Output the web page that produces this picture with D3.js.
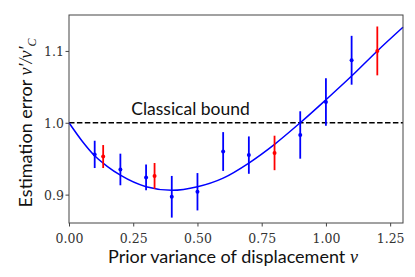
<!DOCTYPE html>
<html>
<head>
<meta charset="utf-8">
<script src="https://cdn.jsdelivr.net/npm/d3@7"></script>
<style>
  body { margin: 0; background: #fff; }
</style>
</head>
<body>
<div id="chart"></div>
<script>
const w = 415;
const h = 277;
const m = {top: 15, right: 12, bottom: 54, left: 69};

// measured points (blue) and extra runs (red), with error bar half-widths
const blueX = [0.1, 0.2, 0.3, 0.4, 0.5, 0.6, 0.7, 0.9, 1.0, 1.1];
const blueY = [0.956, 0.935, 0.924, 0.897, 0.904, 0.960, 0.955, 0.983, 1.029, 1.087];
const blueErr = [0.019, 0.022, 0.018, 0.029, 0.026, 0.027, 0.026, 0.033, 0.033, 0.034];

const redX = [0.133, 0.333, 0.8, 1.2];
const redY = [0.953, 0.926, 0.958, 1.100];
const redErr = [0.016, 0.018, 0.024, 0.034];

// theory curve
const curveX = [0, 0.05, 0.1, 0.15, 0.2, 0.3, 0.4, 0.5, 0.6, 0.7, 0.8, 0.9, 1.0, 1.1, 1.2, 1.3];
const curveY = [1.0, 0.975, 0.954, 0.939, 0.927, 0.911, 0.906, 0.911, 0.923, 0.944, 0.970, 1.0, 1.032, 1.065, 1.100, 1.133];

const xTicks = [0, 0.25, 0.5, 0.75, 1.0, 1.25];
const yTicks = [0.9, 1.0, 1.1];

const x = d3.scaleLinear().domain([0, 1.3]).range([m.left, w - m.right]);
const y = d3.scaleLinear().domain([0.8605, 1.15]).range([h - m.bottom, m.top]);

const svg = d3.select("#chart").append("svg")
    .attr("width", w)
    .attr("height", h);

// classical bound
svg.append("line")
    .attr("x1", x(0)).attr("x2", x(1.3))
    .attr("y1", y(1.0)).attr("y2", y(1.0))
    .attr("stroke", "black")
    .attr("stroke-width", 1.5)
    .attr("stroke-dasharray", "5.5,2.4");

svg.append("text")
    .attr("x", 190.5)
    .attr("y", y(1.0) - 7.5)
    .attr("text-anchor", "middle")
    .style("font-family", "Lato, sans-serif")
    .style("font-size", "17.5px")
    .attr("fill", "#111")
    .text("Classical bound");

// theory
const line = d3.line()
    .x((d, i) => x(curveX[i]))
    .y((d, i) => y(d))
    .curve(d3.curveMonotoneX);

svg.append("path")
    .datum(curveY)
    .attr("d", line)
    .attr("fill", "none")
    .attr("stroke", "#0000ff")
    .attr("stroke-width", 1.5);

const drawPoints = (xs, ys, es, color) => {
    const g = svg.append("g");
    g.selectAll("line")
        .data(xs)
        .enter()
        .append("line")
        .attr("x1", (d) => x(d))
        .attr("x2", (d) => x(d))
        .attr("y1", (d, i) => y(ys[i] - es[i]))
        .attr("y2", (d, i) => y(ys[i] + es[i]))
        .attr("stroke", color)
        .attr("stroke-width", 1.8);
    g.selectAll("circle")
        .data(xs)
        .enter()
        .append("circle")
        .attr("cx", (d) => x(d))
        .attr("cy", (d, i) => y(ys[i]))
        .attr("r", 2)
        .attr("fill", color);
};

drawPoints(blueX, blueY, blueErr, "#0000ff");
drawPoints(redX, redY, redErr, "#ff0000");

// frame
svg.append("rect")
    .attr("x", m.left).attr("y", m.top)
    .attr("width", w - m.left - m.right)
    .attr("height", h - m.top - m.bottom)
    .attr("fill", "none")
    .attr("stroke", "#444")
    .attr("stroke-width", 1);

const xAxis = d3.axisBottom(x).tickValues(xTicks).tickFormat(d3.format(".2f")).tickSize(3.5).tickSizeOuter(0);
const yAxis = d3.axisLeft(y).tickValues(yTicks).tickFormat(d3.format(".1f")).tickSize(3.5).tickSizeOuter(0);

const styleTicks = (g) => {
    g.select(".domain").remove();
    g.selectAll(".tick line").attr("stroke", "#444");
    g.selectAll(".tick text")
        .style("font-family", "'DejaVu Serif', serif")
        .style("font-size", "12.5px")
        .attr("fill", "#333");
};

const gx = svg.append("g")
    .attr("transform", `translate(0, ${h - m.bottom})`)
    .call(xAxis)
    .call(styleTicks);
gx.selectAll(".tick text").attr("y", 20).attr("dy", null);

const gy = svg.append("g")
    .attr("transform", `translate(${m.left}, 0)`)
    .call(yAxis)
    .call(styleTicks);
gy.selectAll(".tick text").attr("x", -5).attr("dy", "0.36em");

// axis labels
const xl = svg.append("text")
    .attr("x", 233)
    .attr("y", 263)
    .attr("text-anchor", "middle")
    .style("font-family", "Lato, sans-serif")
    .style("font-size", "18px")
    .attr("fill", "#111");
xl.append("tspan").text("Prior variance of displacement ");
xl.append("tspan")
    .style("font-family", "'Liberation Serif', serif")
    .style("font-style", "italic")
    .text("v");

const yl = svg.append("text")
    .attr("transform", `translate(32, 123) rotate(-90)`)
    .attr("text-anchor", "middle")
    .style("font-family", "Lato, sans-serif")
    .style("font-size", "18px")
    .attr("fill", "#111");
yl.append("tspan").text("Estimation error ");
yl.append("tspan")
    .style("font-family", "'Liberation Serif', serif")
    .style("font-style", "italic")
    .text("v′/v′");
yl.append("tspan")
    .style("font-family", "'Liberation Serif', serif")
    .style("font-style", "italic")
    .style("font-size", "12px")
    .attr("dy", "4")
    .text("C");
</script>
</body>
</html>
